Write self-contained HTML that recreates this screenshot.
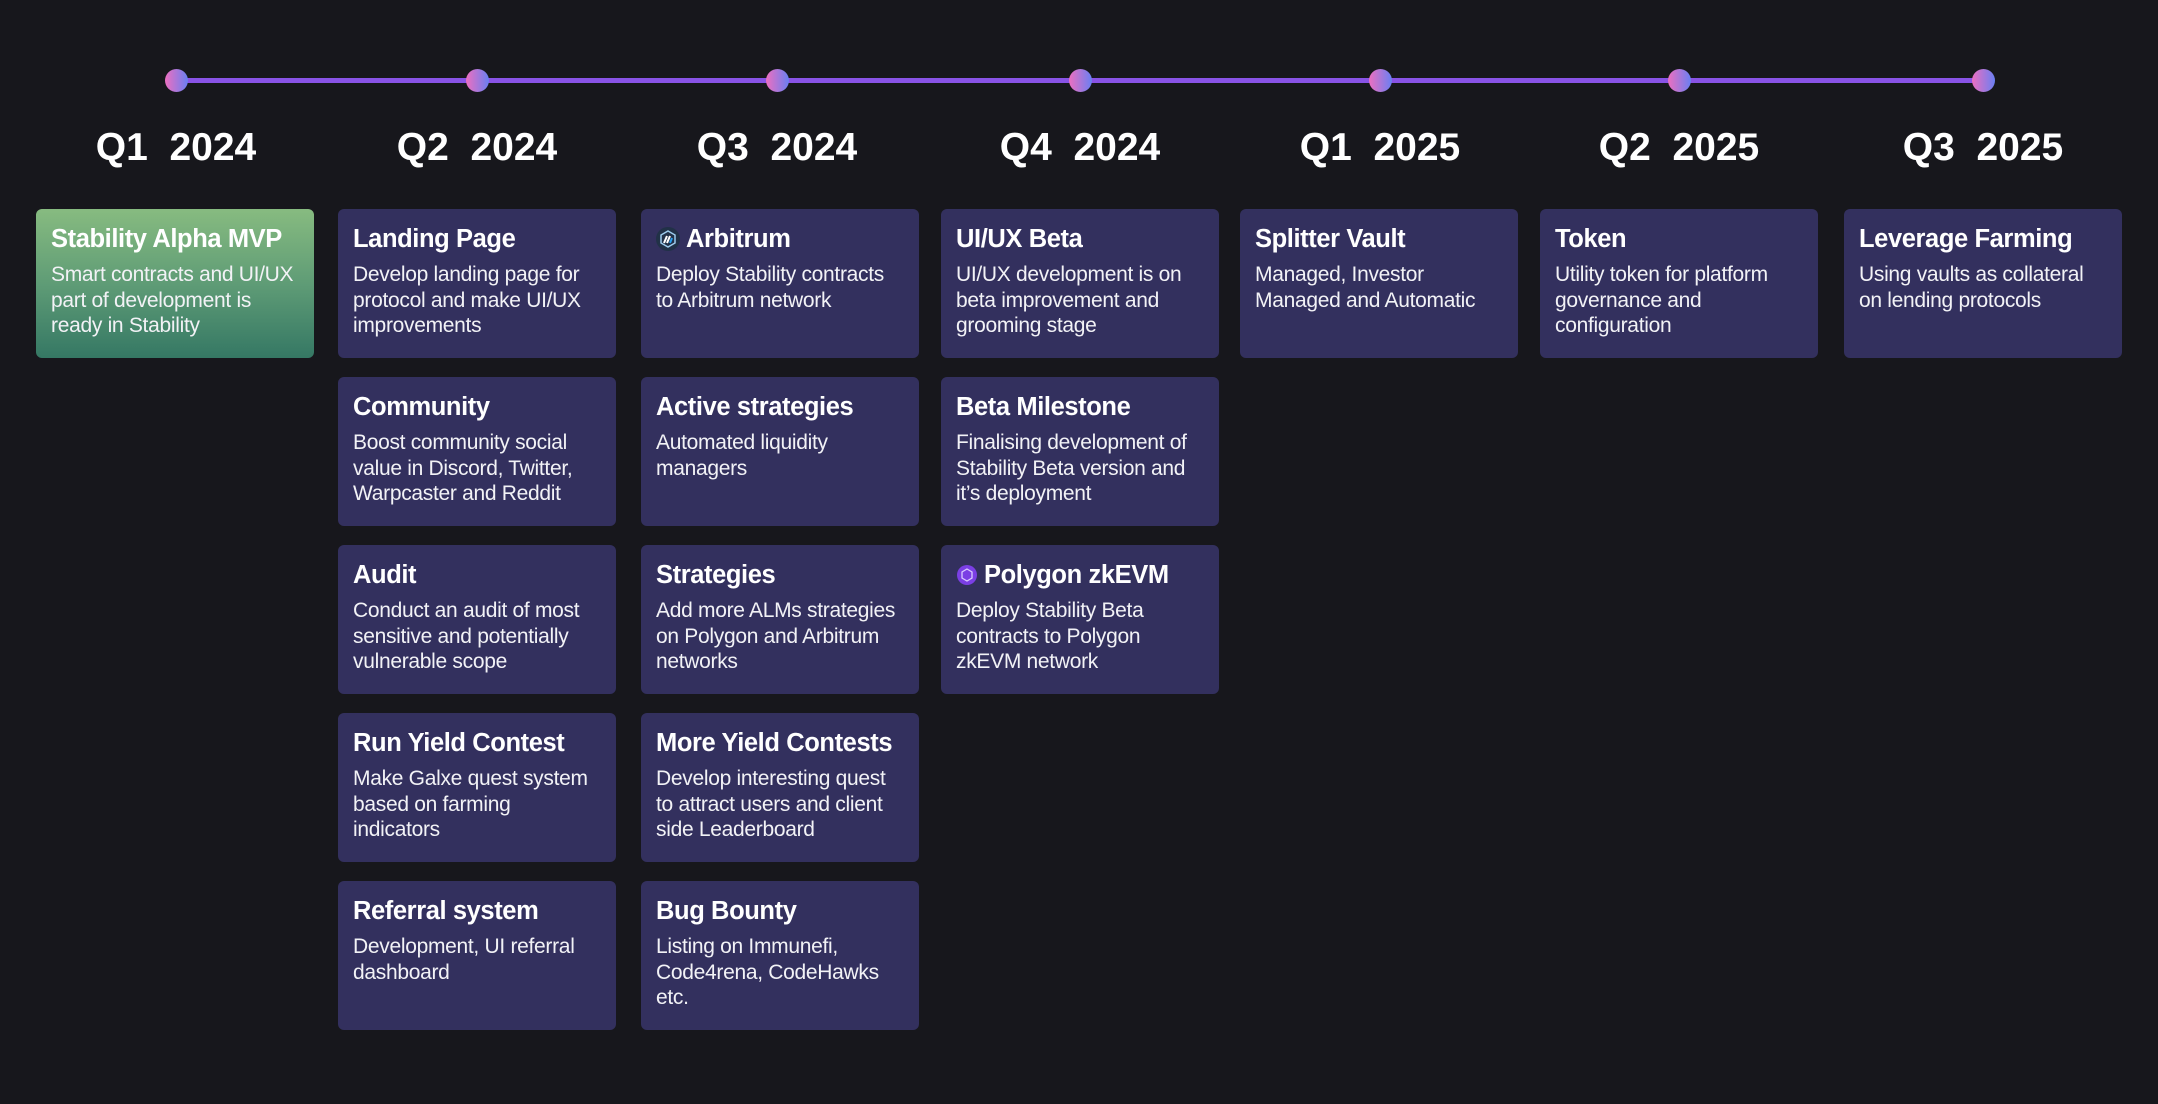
<!DOCTYPE html>
<html><head><meta charset="utf-8"><style>
html,body{margin:0;padding:0;background:#17171c;width:2158px;height:1104px;overflow:hidden;font-family:"Liberation Sans",sans-serif;}
.q{position:absolute;top:126px;width:300px;text-align:center;color:#fff;font-size:39px;font-weight:bold;white-space:pre;}
.card{position:absolute;width:278px;height:149px;background:#33305e;border-radius:6px;box-sizing:border-box;padding:0 8px 0 15px;color:#fff;}
.card.green{background:linear-gradient(180deg,#87bb80 0%,#5f9c76 50%,#357864 100%);}
.t{font-size:25.5px;font-weight:bold;margin-top:14px;height:32px;line-height:32px;white-space:nowrap;letter-spacing:-0.4px;display:flex;align-items:center;}
.d{font-size:21px;line-height:25.5px;margin-top:7px;white-space:nowrap;color:#f2f2f6;letter-spacing:-0.3px;}
.dot{position:absolute;width:23px;height:23px;border-radius:50%;background:linear-gradient(90deg,#ec6fc0,#6a7ff2);top:69px;}
</style></head><body>
<div id="root">
<div style="position:absolute;left:176px;top:78px;width:1807px;height:5px;background:#8953e6;border-radius:2px;"></div>
</div>
<script>
var quarters=["Q1  2024","Q2  2024","Q3  2024","Q4  2024","Q1  2025","Q2  2025","Q3  2025"];
var dotX=[176,477,777,1080,1380,1679,1983];
var colX=[36,338,641,941,1240,1540,1844];
var rowY=[209,377,545,713,881];
var items=[
[0,0,"Stability Alpha MVP","Smart contracts and UI/UX<br>part of development is<br>ready in Stability","green"],
[1,0,"Landing Page","Develop landing page for<br>protocol and make UI/UX<br>improvements",""],
[1,1,"Community","Boost community social<br>value in Discord, Twitter,<br>Warpcaster and Reddit",""],
[1,2,"Audit","Conduct an audit of most<br>sensitive and potentially<br>vulnerable scope",""],
[1,3,"Run Yield Contest","Make Galxe quest system<br>based on farming<br>indicators",""],
[1,4,"Referral system","Development, UI referral<br>dashboard",""],
[2,0,"Arbitrum","Deploy Stability contracts<br>to Arbitrum network","arb"],
[2,1,"Active strategies","Automated liquidity<br>managers",""],
[2,2,"Strategies","Add more ALMs strategies<br>on Polygon and Arbitrum<br>networks",""],
[2,3,"More Yield Contests","Develop interesting quest<br>to attract users and client<br>side Leaderboard",""],
[2,4,"Bug Bounty","Listing on Immunefi,<br>Code4rena, CodeHawks<br>etc.",""],
[3,0,"UI/UX Beta","UI/UX development is on<br>beta improvement and<br>grooming stage",""],
[3,1,"Beta Milestone","Finalising development of<br>Stability Beta version and<br>it’s deployment",""],
[3,2,"Polygon zkEVM","Deploy Stability Beta<br>contracts to Polygon<br>zkEVM network","poly"],
[4,0,"Splitter Vault","Managed, Investor<br>Managed and Automatic",""],
[5,0,"Token","Utility token for platform<br>governance and<br>configuration",""],
[6,0,"Leverage Farming","Using vaults as collateral<br>on lending protocols",""]
];
var root=document.getElementById('root');
quarters.forEach(function(q,i){
  var d=document.createElement('div');d.className='dot';d.style.left=(dotX[i]-11)+'px';
  
  
  root.appendChild(d);
  var l=document.createElement('div');l.className='q';l.textContent=q;l.style.left=(dotX[i]-150)+'px';
  
  
  root.appendChild(l);
});
var arbSvg='<svg width="24" height="24" viewBox="0 0 24 24" style="margin-right:6px"><circle cx="12" cy="12" r="12" fill="#213147"/><polygon points="12,4 19,8 19,16 12,20 5,16 5,8" fill="none" stroke="#9dcced" stroke-width="1.5"/><path d="M8 16 L11 9 M11 16 L14 9" stroke="#fff" stroke-width="2"/><path d="M14 16 L16 11" stroke="#28a0f0" stroke-width="2"/></svg>';
var polySvg='<svg width="22" height="24" viewBox="0 0 22 24" style="margin-right:6px"><circle cx="11" cy="12" r="10" fill="#7b3fe4"/><polygon points="11,6 16,9 16,15 11,18 6,15 6,9" fill="none" stroke="#d9c8ff" stroke-width="1.3"/></svg>';
items.forEach(function(it){
  var c=document.createElement('div');
  c.className='card'+(it[4]=='green'?' green':'');
  c.style.left=colX[it[0]]+'px';c.style.top=rowY[it[1]]+'px';
  
  
  var icon=it[4]=='arb'?arbSvg:(it[4]=='poly'?polySvg:'');
  c.innerHTML='<div class="t">'+icon+it[2]+'</div><div class="d">'+it[3]+'</div>';
  root.appendChild(c);
});
</script>
</body></html>
